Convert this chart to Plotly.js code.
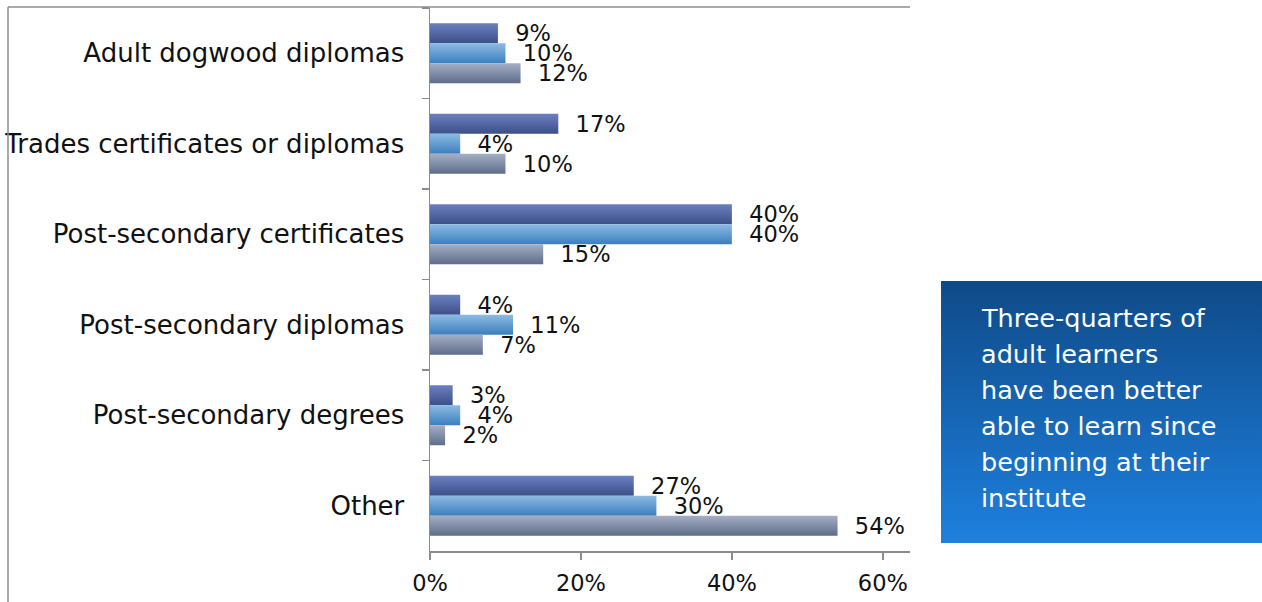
<!DOCTYPE html>
<html>
<head>
<meta charset="utf-8">
<script src="https://cdn.plot.ly/plotly-3.0.1.min.js"></script>
<style>html,body{margin:0;padding:0;background:#fff;}#chart{width:1262px;height:602px;}</style>
</head>
<body>
<div id="chart"></div>
<script>
const categories = ["Adult dogwood diplomas", "Trades certificates or diplomas", "Post-secondary certificates", "Post-secondary diplomas", "Post-secondary degrees", "Other"];
const seriesA = [9, 17, 40, 4, 3, 27];
const seriesB = [10, 4, 40, 11, 4, 30];
const seriesC = [12, 10, 15, 7, 2, 54];
const xTickVals = [0, 20, 40, 60];
const xTickText = ["0%", "20%", "40%", "60%"];
const noteLines = ["Three-quarters of", "adult learners", "have been better", "able to learn since", "beginning at their", "institute"];

const FONT = "DejaVu Sans";
const colors = ["#5468a6", "#62a0d4", "#8090aa"];
const grads = [["#6b80c0", "#3c4f88"], ["#8cbbe3", "#3b7fbd"], ["#a5afc4", "#5d6d8b"]];

function mk(vals, i) {
  return {
    type: "bar", orientation: "h", y: categories, x: vals,
    text: vals.map(v => v + "%"),
    marker: {color: colors[i]},
    texttemplate: "\u00a0\u00a0%{text}", textposition: "outside",
    constraintext: "none", cliponaxis: false,
    textfont: {family: FONT, size: 22.5, color: "#111"},
    hoverinfo: "none", showlegend: false
  };
}
const data = [mk(seriesA, 0), mk(seriesB, 1), mk(seriesC, 2)];

const L = 430, R = 910, T = 8, B = 551, W = 1262, H = 602;
const pw = R - L, ph = B - T;
const px = v => (v - L) / pw;
const py = v => (B - v) / ph;

const boxSvg = '<svg xmlns="http://www.w3.org/2000/svg" width="100" height="100" preserveAspectRatio="none">' +
  '<defs><linearGradient id="g" x1="0" y1="0" x2="0" y2="1"><stop offset="0" stop-color="#0f4a88"/><stop offset="1" stop-color="#1e80de"/></linearGradient></defs>' +
  '<rect width="100" height="100" fill="url(#g)"/></svg>';

const annotations = noteLines.map((t, i) => ({
  text: t, xref: "paper", yref: "paper", x: px(979), y: py(318 + 36 * i),
  xanchor: "left", yanchor: "middle", showarrow: false,
  font: {family: FONT, size: 25.5, color: "#ffffff"}
}));

const layout = {
  width: W, height: H,
  margin: {l: L, r: W - R, t: T, b: H - B, pad: 0},
  paper_bgcolor: "#ffffff", plot_bgcolor: "#ffffff",
  barmode: "group", bargap: 0.337, bargroupgap: 0,
  xaxis: {
    range: [0, 63.6], tickmode: "array", tickvals: xTickVals, ticktext: xTickText,
    showgrid: false, zeroline: false, showline: true, linecolor: "#8c8c8c", linewidth: 1.5,
    ticks: "outside", ticklen: 7, tickcolor: "#8c8c8c", tickwidth: 1.5,
    tickfont: {family: FONT, size: 22.5, color: "#111"}, ticklabelstandoff: 4, fixedrange: true
  },
  yaxis: {
    type: "category", autorange: "reversed", tickson: "boundaries",
    showgrid: false, zeroline: false, showline: true, linecolor: "#8c8c8c", linewidth: 1.5,
    ticks: "outside", ticklen: 7, tickcolor: "#8c8c8c", tickwidth: 1.5,
    tickfont: {family: FONT, size: 26, color: "#111"}, ticklabelstandoff: 19, fixedrange: true
  },
  shapes: [
    {type: "line", xref: "paper", yref: "paper", x0: px(8), x1: 1, y0: py(7), y1: py(7), line: {color: "#8c8c8c", width: 1.5}},
    {type: "line", xref: "paper", yref: "paper", x0: px(8), x1: px(8), y0: py(7), y1: py(602), line: {color: "#8c8c8c", width: 1.5}}
  ],
  images: [{
    source: "data:image/svg+xml;utf8," + encodeURIComponent(boxSvg),
    xref: "paper", yref: "paper", x: px(941), y: py(281),
    sizex: (1262 - 941) / pw, sizey: (543 - 281) / ph,
    sizing: "stretch", xanchor: "left", yanchor: "top", layer: "below"
  }],
  annotations: annotations,
  hovermode: false
};

Plotly.newPlot("chart", data, layout, {displayModeBar: false, staticPlot: true}).then(gd => {
  const svg = gd.querySelector(".main-svg");
  const ns = "http://www.w3.org/2000/svg";
  let defs = svg.querySelector("defs");
  if (!defs) { defs = document.createElementNS(ns, "defs"); svg.insertBefore(defs, svg.firstChild); }
  grads.forEach((g, i) => {
    const lg = document.createElementNS(ns, "linearGradient");
    lg.setAttribute("id", "bargrad" + i);
    lg.setAttribute("x1", "0"); lg.setAttribute("y1", "0"); lg.setAttribute("x2", "0"); lg.setAttribute("y2", "1");
    [[0, g[0]], [1, g[1]]].forEach(s => {
      const st = document.createElementNS(ns, "stop");
      st.setAttribute("offset", s[0]); st.setAttribute("stop-color", s[1]);
      lg.appendChild(st);
    });
    defs.appendChild(lg);
  });
  gd.querySelectorAll(".barlayer .trace").forEach((tr, i) => {
    tr.querySelectorAll(".point path").forEach(p => { p.style.fill = "url(#bargrad" + i + ")"; });
  });
});
</script>
</body>
</html>
